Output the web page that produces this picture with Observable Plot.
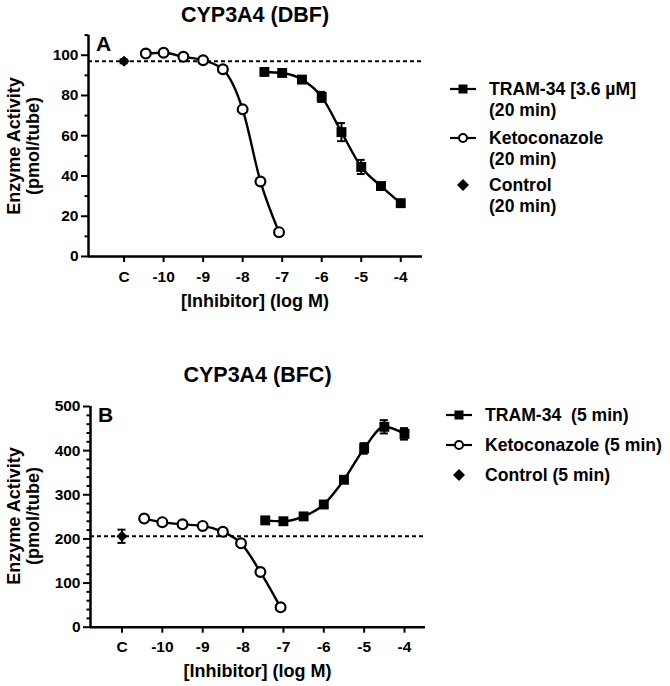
<!DOCTYPE html>
<html><head><meta charset="utf-8">
<script src="https://cdn.jsdelivr.net/npm/d3@7"></script>
<script src="https://cdn.jsdelivr.net/npm/@observablehq/plot@0.6"></script>
<style>
body{margin:0;background:#fff;}
#root{position:relative;width:670px;height:686px;overflow:hidden;font-family:"Liberation Sans",Arial,sans-serif;font-weight:bold;color:#000;}
.abs{position:absolute;white-space:pre;}
.title{font-size:21.5px;line-height:24px;text-align:center;}
.xlab{font-size:18px;line-height:22px;text-align:center;}
.ylab{font-size:18px;line-height:19px;text-align:center;transform:translate(-50%,-50%) rotate(-90deg);}
.letter{font-size:21px;line-height:22px;}
.leg{font-size:17.6px;line-height:21px;}
.plot{position:absolute;left:0;}
</style></head><body><div id="root"></div>
<script>
// ---------- data ----------
const xTickValues = [-11, -10, -9, -8, -7, -6, -5, -4];
const xTickLabels = ["C", "-10", "-9", "-8", "-7", "-6", "-5", "-4"];

// Panel A  CYP3A4 (DBF), 20 min
const yTicksA = [0, 20, 40, 60, 80, 100];
const yMinorTicksA = [10, 30, 50, 70, 90, 110];
const logTramA = [-7.45, -7, -6.5, -6, -5.5, -5, -4.5, -4];
const tramA = [91.7, 91.2, 87.9, 79.3, 61.8, 44.5, 35, 26.5];
const tramSemA = [0.5, 0.5, 1, 2.5, 4.5, 3.5, 1, 0.5];
const logKetoA = [-10.45, -10, -9.5, -9, -8.5, -8, -7.55, -7.08];
const ketoA = [100.8, 101.2, 99.2, 97.5, 93, 73.1, 37.3, 12.1];
const controlA = 97;
const controlSemA = 1;

// Panel B  CYP3A4 (BFC), 5 min
const yTicksB = [0, 100, 200, 300, 400, 500];
const yMinorTicksB = [20, 40, 60, 80, 120, 140, 160, 180, 220, 240, 260, 280, 320, 340, 360, 380, 420, 440, 460, 480];
const logTramB = [-7.45, -7, -6.5, -6, -5.5, -5, -4.5, -4];
const tramB = [242, 240, 251, 278, 334, 405, 454, 438];
const tramSemB = [3, 3, 3, 5, 7, 12, 15, 13];
const logKetoB = [-10.45, -10, -9.5, -9, -8.5, -8.05, -7.57, -7.07];
const ketoB = [246, 238, 233, 229.5, 216, 190, 125, 45];
const controlB = 206;
const controlSemB = 15;

const legendA = ["TRAM-34 [3.6 \u00b5M]\n(20 min)", "Ketoconazole\n(20 min)", "Control\n(20 min)"];
const legendB = ["TRAM-34  (5 min)", "Ketoconazole (5 min)", "Control (5 min)"];
const titleA = "CYP3A4 (DBF)";
const titleB = "CYP3A4 (BFC)";
const xLabel = "[Inhibitor] (log M)";
const yLabel = "Enzyme Activity\n(pmol/tube)";

// ---------- helpers ----------
const rows = (xs, ys, es) => xs.map((x, i) => ({x, y: ys[i], e: es ? es[i] : 0}));
const root = document.getElementById("root");
function addDiv(cls, text, css) {
  const d = document.createElement("div");
  d.className = "abs " + cls;
  d.textContent = text;
  Object.assign(d.style, css);
  root.appendChild(d);
  return d;
}
const FONT = "Liberation Sans, Arial, sans-serif";

function panel(cfg) {
  const tram = rows(cfg.logTram, cfg.tram, cfg.tramSem);
  const keto = rows(cfg.logKeto, cfg.keto);
  const ctrl = [{x: xTickValues[0], y: cfg.control, e: cfg.controlSem}];
  const bars = tram.concat(ctrl);
  const cap = 0.1;
  const p = Plot.plot({
    width: 670, height: cfg.height,
    marginLeft: cfg.left, marginRight: 670 - cfg.right,
    marginTop: cfg.mTop, marginBottom: cfg.mBottom,
    x: {domain: cfg.xDomain, axis: null},
    y: {domain: cfg.yDomain, axis: null},
    style: {fontFamily: FONT, fontWeight: "bold", fontSize: "15.5px", color: "#000", background: "transparent", overflow: "visible"},
    marks: [
      Plot.axisY(cfg.yMinor, {tickSize: 3.5, strokeWidth: 2, tickFormat: () => "", label: null}),
      Plot.axisY(cfg.yTicks, {tickSize: 7, tickPadding: 3, strokeWidth: 2, fontSize: 15.5, tickFormat: d => String(d), label: null}),
      Plot.axisX(xTickValues, {tickSize: 6, tickPadding: 8, strokeWidth: 2, fontSize: 15.5,
        tickFormat: d => xTickLabels[xTickValues.indexOf(d)], label: null}),
      Plot.ruleY([cfg.control], {stroke: "#000", strokeWidth: 2, strokeDasharray: "4,3"}),
      Plot.ruleY([cfg.yDomain[0]], {stroke: "#000", strokeWidth: 2.5}),
      Plot.ruleX([cfg.xDomain[0]], {stroke: "#000", strokeWidth: 2.5}),
      Plot.ruleX(bars, {x: "x", y1: d => d.y - d.e, y2: d => d.y + d.e, stroke: "#000", strokeWidth: 2}),
      Plot.ruleY(bars, {y: d => d.y + d.e, x1: d => d.x - cap, x2: d => d.x + cap, stroke: "#000", strokeWidth: 2}),
      Plot.ruleY(bars, {y: d => d.y - d.e, x1: d => d.x - cap, x2: d => d.x + cap, stroke: "#000", strokeWidth: 2}),
      Plot.line(keto, {x: "x", y: "y", curve: "monotone-x", stroke: "#000", strokeWidth: 2.4}),
      Plot.line(tram, {x: "x", y: "y", curve: "monotone-x", stroke: "#000", strokeWidth: 2.4}),
      Plot.dot(keto, {x: "x", y: "y", symbol: "circle", r: 4.9, fill: "#fff", stroke: "#000", strokeWidth: 2.2}),
      Plot.dot(tram, {x: "x", y: "y", symbol: "square", r: 5.6, fill: "#000", stroke: "none"}),
      Plot.dot(ctrl, {x: "x", y: "y", symbol: "diamond2", r: 5, fill: "#000", stroke: "none"})
    ]
  });
  p.classList.add("plot");
  p.style.top = cfg.top + "px";
  root.appendChild(p);

  const plotW = cfg.right - cfg.left;
  addDiv("title", cfg.title, {left: cfg.left + "px", width: plotW + "px", top: (cfg.titleY - 12) + "px"});
  addDiv("xlab", xLabel, {left: cfg.left + "px", width: plotW + "px", top: (cfg.xlabY - 11) + "px"});
  addDiv("ylab", yLabel, {left: "24px", top: cfg.ylabY + "px"});
  addDiv("letter", cfg.letter, {left: (cfg.left + 8) + "px", top: cfg.letterY + "px"});

  // legend
  cfg.legend.forEach((txt, i) => {
    const cy = cfg.legY[i];
    const s = d3.create("svg").attr("width", 30).attr("height", 16)
      .style("position", "absolute").style("left", (cfg.legX - 15) + "px").style("top", (cy - 8) + "px");
    if (i < 2) s.append("line").attr("x1", 2).attr("x2", 28).attr("y1", 8).attr("y2", 8).attr("stroke", "#000").attr("stroke-width", 2.2);
    if (i === 0) s.append("rect").attr("x", 10.5).attr("y", 3.5).attr("width", 9).attr("height", 9).attr("fill", "#000");
    if (i === 1) s.append("circle").attr("cx", 15).attr("cy", 8).attr("r", 4).attr("fill", "#fff").attr("stroke", "#000").attr("stroke-width", 2);
    if (i === 2) s.append("path").attr("d", "M15,2L21,8L15,14L9,8Z").attr("fill", "#000");
    root.appendChild(s.node());
    addDiv("leg", txt, {left: cfg.legTextX + "px", top: (cy - 10.5) + "px"});
  });
}

panel({
  top: 0, height: 320, left: 88, right: 422, mTop: 34.6, mBottom: 64,
  xDomain: [-11.9, -3.45], yDomain: [0, 110],
  yTicks: yTicksA, yMinor: yMinorTicksA,
  logTram: logTramA, tram: tramA, tramSem: tramSemA,
  logKeto: logKetoA, keto: ketoA, control: controlA, controlSem: controlSemA,
  title: titleA, titleY: 15, xlabY: 301, ylabY: 146, letter: "A", letterY: 33,
  legend: legendA, legX: 463, legTextX: 489, legY: [89, 138, 185]
});

panel({
  top: 370, height: 316, left: 90, right: 425, mTop: 36, mBottom: 59.3,
  xDomain: [-11.78, -3.48], yDomain: [0, 500],
  yTicks: yTicksB, yMinor: yMinorTicksB,
  logTram: logTramB, tram: tramB, tramSem: tramSemB,
  logKeto: logKetoB, keto: ketoB, control: controlB, controlSem: controlSemB,
  title: titleB, titleY: 375, xlabY: 671, ylabY: 516, letter: "B", letterY: 404,
  legend: legendB, legX: 459, legTextX: 485, legY: [415, 445, 475]
});
</script></body></html>
